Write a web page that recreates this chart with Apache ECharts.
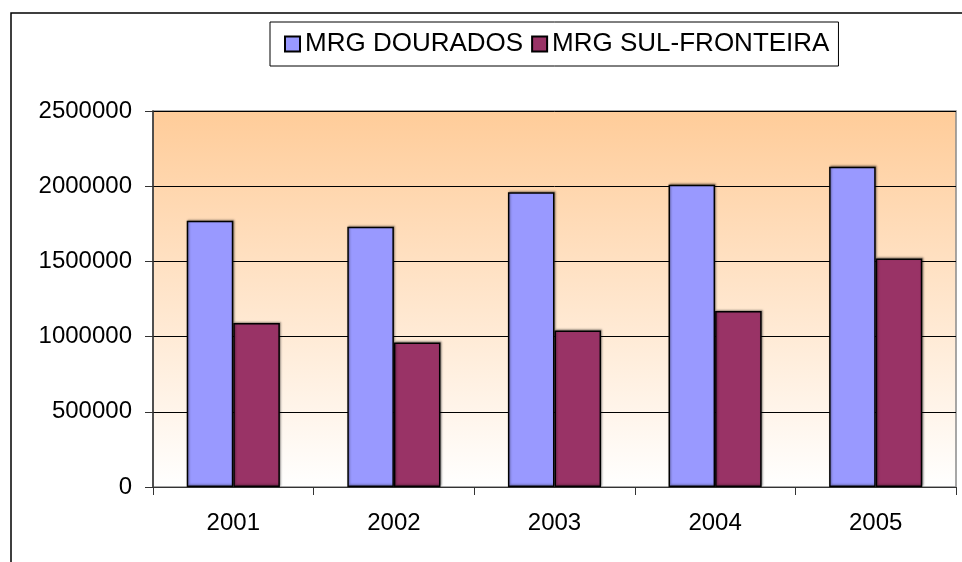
<!DOCTYPE html>
<html>
<head>
<meta charset="utf-8">
<script src="https://cdn.jsdelivr.net/npm/echarts@6/dist/echarts.min.js"></script>
<style>
  html, body { margin: 0; padding: 0; background: #fff; }
  #chart { width: 962px; height: 562px; }
</style>
</head>
<body>
<div id="chart"></div>
<script>
const years = ["2001", "2002", "2003", "2004", "2005"];
const dourados = [1770000, 1730000, 1960000, 2010000, 2130000];
const sulFronteira = [1090000, 960000, 1040000, 1170000, 1520000];
const seriesNames = ["MRG DOURADOS", "MRG SUL-FRONTEIRA"];

const font = "Liberation Sans, Arial, sans-serif";

const chart = echarts.init(document.getElementById("chart"));

chart.setOption({
  animation: false,
  backgroundColor: "#fff",
  // outer frame of the chart area
  graphic: [
    {
      type: "rect",
      shape: { x: 11, y: 13, width: 1000, height: 600 },
      style: { fill: "none", stroke: "#000", lineWidth: 1.5 },
      silent: true,
      z: -1
    }
  ],
  legend: {
    left: 270,
    top: 22,
    padding: [9, 9, 9, 14],
    borderColor: "#000",
    borderWidth: 1,
    backgroundColor: "#fff",
    itemWidth: 15,
    itemHeight: 15,
    itemGap: 8,
    icon: "rect",
    textStyle: { fontFamily: font, fontSize: 26, color: "#000" },
    data: seriesNames
  },
  grid: {
    left: 153,
    top: 111,
    right: 6,
    bottom: 75,
    show: true,
    borderColor: "#8a8a8a",
    borderWidth: 1.5,
    backgroundColor: new echarts.graphic.LinearGradient(0, 0, 0, 1, [
      { offset: 0, color: "#FFCC99" },
      { offset: 1, color: "#FFFFFF" }
    ])
  },
  xAxis: {
    type: "category",
    data: years,
    axisLine: { lineStyle: { color: "#333", width: 1 } },
    axisTick: { show: true, length: 8, inside: false, lineStyle: { color: "#333" } },
    axisLabel: { fontFamily: font, fontSize: 24, color: "#000", margin: 24 },
    splitLine: { show: false }
  },
  yAxis: {
    type: "value",
    min: 0,
    max: 2500000,
    interval: 500000,
    axisLine: { show: true, lineStyle: { color: "#333", width: 1.5 } },
    axisTick: { show: true, length: 8, lineStyle: { color: "#333" } },
    axisLabel: {
      fontFamily: font,
      fontSize: 24,
      color: "#000",
      margin: 21,
      formatter: v => String(v)
    },
    splitLine: { show: true, lineStyle: { color: "#000", width: 1 } }
  },
  series: [
    {
      name: seriesNames[0],
      type: "bar",
      data: dourados,
      barGap: "0%",
      barCategoryGap: "42%",
      itemStyle: {
        color: "#9999FF",
        borderColor: "#000",
        borderWidth: 1.5,
        shadowColor: "rgba(0,0,0,0.35)",
        shadowBlur: 2,
        shadowOffsetX: 1,
        shadowOffsetY: -1
      }
    },
    {
      name: seriesNames[1],
      type: "bar",
      data: sulFronteira,
      barGap: "0%",
      barCategoryGap: "42%",
      itemStyle: {
        color: "#993366",
        borderColor: "#000",
        borderWidth: 1.5,
        shadowColor: "rgba(0,0,0,0.35)",
        shadowBlur: 2,
        shadowOffsetX: 1,
        shadowOffsetY: -1
      }
    }
  ]
});

window.addEventListener("resize", () => chart.resize());
</script>
</body>
</html>
